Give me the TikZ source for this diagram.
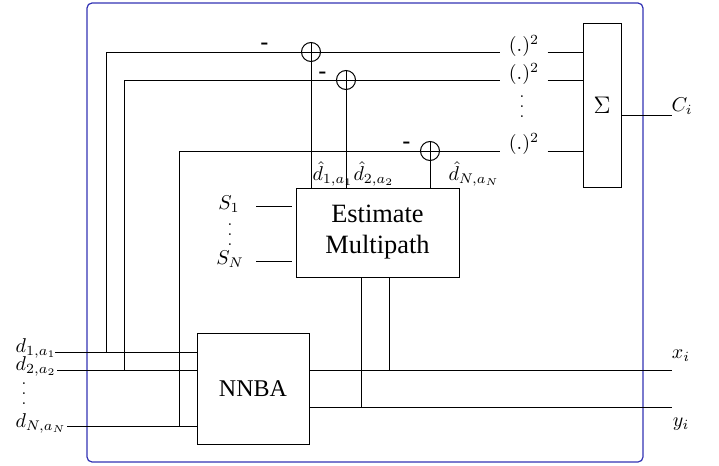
\documentclass[tikz,border=0pt]{standalone}
\usepackage{fontspec}
\newfontfamily\blockfont{Liberation Serif}
\definecolor{FrameBlue}{RGB}{50,50,180}
\usetikzlibrary{positioning, calc}

\tikzset{
  block/.style={draw, fill=white, align=center, inner sep=2pt},
  adder/.style={circle, draw, minimum size=9.5pt, inner sep=0pt,
    path picture={\draw (path picture bounding box.north) -- (path picture bounding box.south)
      (path picture bounding box.west) -- (path picture bounding box.east);}},
  square/.style={inner xsep=4pt, inner ysep=1pt},
  minus/.style={font=\bfseries, inner sep=0pt},
  lbl/.style={inner sep=0.5pt},
  dotcol/.style={inner sep=0pt, align=center, font=\fontsize{8}{5}\selectfont}
}

\begin{document}
\begin{tikzpicture}[x=0.5pt, y=-0.5pt, line width=0.5pt]
\useasboundingbox (0,0) rectangle (719,466);
\draw[FrameBlue, rounded corners=2.5pt, line width=0.6pt] (87,3) rectangle (643,462);

% blocks
\node[block, minimum width=81.5pt, minimum height=44.5pt,
      font=\blockfont\fontsize{13.2}{15.5}\selectfont] (em) at (377.5,232.5) {Estimate\\Multipath};
\node[block, minimum width=56pt, minimum height=55.5pt,
      font=\blockfont\fontsize{12}{14}\selectfont] (nn) at (253,388.5) {NNBA};
\node[block, minimum width=19pt, minimum height=82pt, font=\large] (sum) at (602,105) {$\Sigma$};

% adders and squares
\node[adder] (c1) at (311,52) {};
\node[adder] (c2) at (346,80) {};
\node[adder] (c3) at (430,151) {};
\node[minus] (m1) at (265,46) {-};
\node[minus] (m2) at (323,75) {-};
\node[minus] (m3) at (407,145) {-};
\node[square] (q1) at (524,46) {$(.)^2$};
\node[square] (q2) at (524,74) {$(.)^2$};
\node[square] (q3) at (524,144) {$(.)^2$};
\node[dotcol] (qdots) at (522,107) {.\\.\\.};

% inputs
\coordinate (in1) at (55,352);
\coordinate (in2) at (57,370);
\coordinate (inN) at (67,426);
\coordinate (v1) at (106,352);
\coordinate (v2) at (124,370);
\coordinate (v3) at (179,426);
\node[lbl] (d1) at (36,348) {$d_{1,a_1}$};
\node[lbl] (d2) at (36,366) {$d_{2,a_2}$};
\node[dotcol] (ddots) at (24,394) {.\\.\\.};
\node[lbl] (dN) at (41,423) {$d_{N,a_N}$};
\node[lbl] (s1) at (229,204) {$S_1$};
\node[dotcol] (sdots) at (230,235) {.\\.\\.};
\node[lbl] (sN) at (230,259) {$S_N$};
\coordinate (s1a) at (256,206);
\coordinate (s1b) at (292,206);
\coordinate (sNa) at (256,261);
\coordinate (sNb) at (292,261);

% estimates
\node[lbl, anchor=south west] (h1) at (c1 |- em.north) {$\hat{d}_{1,a_1}$};
\node[lbl, anchor=south west] (h2) at ([xshift=3pt]c2 |- em.north) {$\hat{d}_{2,a_2}$};
\node[lbl, anchor=south west] (hN) at ([xshift=8.5pt]c3 |- em.north) {$\hat{d}_{N,a_N}$};

% outputs
\coordinate (ci) at (672,115);
\coordinate (xo) at (672,370);
\coordinate (yo) at (672,407);
\coordinate (fx) at (389,370);
\coordinate (fy) at (361,407);
\node[lbl] (cil) at (682,106) {$C_i$};
\node[lbl] (xil) at (681,356) {$x_i$};
\node[lbl] (yil) at (681,424) {$y_i$};

% wires
\draw (in1) -- (in1 -| nn.west);
\draw (in2) -- (in2 -| nn.west);
\draw (inN) -- (inN -| nn.west);
\draw (v1) |- (c1.west);
\draw (v2) |- (c2.west);
\draw (v3) |- (c3.west);
\draw (c1.east) -- (q1.west |- c1);
\draw (c2.east) -- (q2.west |- c2);
\draw (c3.east) -- (q3.west |- c3);
\draw (q1.east |- c1) -- (sum.west |- c1);
\draw (q2.east |- c2) -- (sum.west |- c2);
\draw (q3.east |- c3) -- (sum.west |- c3);
\draw (c1.south) -- (c1 |- em.north);
\draw (c2.south) -- (c2 |- em.north);
\draw (c3.south) -- (c3 |- em.north);
\draw (s1a) -- (s1b);
\draw (sNa) -- (sNb);
\draw (sum.east |- ci) -- (ci);
\draw (nn.east |- xo) -- (xo);
\draw (nn.east |- yo) -- (yo);
\draw (fx) -- (fx |- em.south);
\draw (fy) -- (fy |- em.south);
\end{tikzpicture}
\end{document}
